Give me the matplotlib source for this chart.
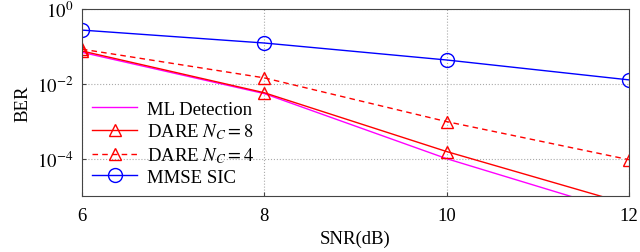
import matplotlib.pyplot as plt

plt.rcParams['font.family'] = ['Liberation Serif', 'DejaVu Serif']
plt.rcParams['mathtext.fontset'] = 'stix'

snr = [6, 8, 10, 12]
ber_ml = [0.070, 0.0055, 1.0e-4, 3.3e-6]
ber_dare8 = [0.076, 0.0058, 1.55e-4, 6.0e-6]
ber_dare4 = [0.085, 0.0145, 9.8e-4, 9.4e-5]
ber_mmse = [0.275, 0.124, 0.0436, 0.0128]

fig = plt.figure(figsize=(6.4, 2.53), dpi=100)
ax = fig.add_axes([0.128, 0.221, 0.855, 0.739])

ax.plot(snr, ber_ml, color='#ff00ff', lw=1.0, label='ML Detection')
ax.plot(snr, ber_dare8, color='red', lw=1.0, marker='^', ms=9, mfc='none',
        mew=1.0, label='DARE $N_C = 8$')
ax.plot(snr, ber_dare4, color='red', lw=1.0, ls=(0, (4, 3)), marker='^', ms=9,
        mfc='none', mew=1.0, label='DARE $N_C = 4$')
ax.plot(snr, ber_mmse, color='blue', lw=1.0, marker='o', ms=10, mfc='none',
        mew=1.0, label='MMSE SIC')

ax.set_yscale('log')
ax.set_xlim(6, 12)
ax.set_ylim(1e-5, 1)
ax.set_xticks([6, 8, 10, 12])
ax.set_yticks([1, 1e-2, 1e-4])
ax.set_yticklabels(['$10^{0}$', '$10^{-2}$', '$10^{-4}$'])
ax.minorticks_off()
ax.tick_params(labelsize=13.5, direction='in', length=3, color='#444444')
ax.tick_params(axis='x', pad=8)
ax.tick_params(axis='y', pad=6)
ax.grid(True, ls=':', color='#aaaaaa', lw=0.8)
for s in ax.spines.values():
    s.set_color('#444444')

ax.set_xlabel('SNR(dB)', fontsize=13.5, labelpad=4)
ax.set_ylabel('BER', fontsize=13.5, labelpad=4)

ax.legend(loc='lower left', bbox_to_anchor=(0.0, 0.0), frameon=False,
          fontsize=13.5, handlelength=2.4, handletextpad=0.5,
          labelspacing=0.2, borderaxespad=0.15)

fig.savefig('out.png', dpi=100)
